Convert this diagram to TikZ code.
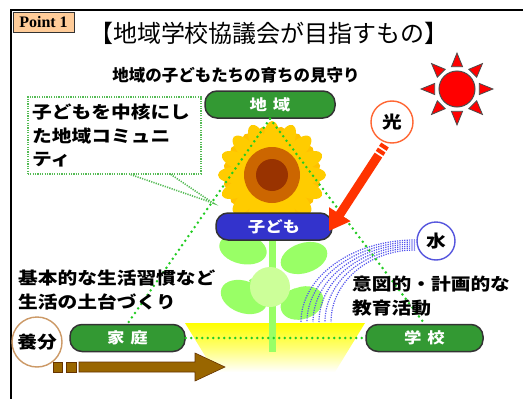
\documentclass[tikz,border=0pt]{standalone}
\usepackage{fontspec}
\setmainfont{Noto Sans CJK JP}
\newfontfamily\jpwide[FakeStretch=1.16]{Noto Sans CJK JP}
\newfontfamily\latinserif{Liberation Serif}
\usetikzlibrary{arrows.meta,calc}

\definecolor{pillgreen}{HTML}{339933}
\definecolor{pillblue}{HTML}{3333CC}
\definecolor{petal}{HTML}{FFCC00}
\definecolor{diskout}{HTML}{CC6600}
\definecolor{diskin}{HTML}{993300}
\definecolor{leaf}{HTML}{99FF66}
\definecolor{leafpale}{HTML}{CCFF99}
\definecolor{dotgreen}{HTML}{22CC22}
\definecolor{boxgreen}{HTML}{55BB55}
\definecolor{water}{HTML}{5555EE}
\definecolor{lightring}{HTML}{FF6633}
\definecolor{waterring}{HTML}{5555DD}
\definecolor{soilring}{HTML}{CC9966}
\definecolor{arrowred}{HTML}{FF3300}
\definecolor{arrowbrown}{HTML}{996600}
\definecolor{arrowbrowndark}{HTML}{663300}
\definecolor{pointbox}{HTML}{FFCC99}

\begin{document}
\begin{tikzpicture}[x=1pt,y=-1pt,
  pill/.style={rounded corners=12pt, draw=black!80, line width=1.5pt,
    minimum height=27pt, inner sep=0pt, text=white,
    font=\jpwide\bfseries\fontsize{15}{15}\selectfont},
  greenpill/.style={pill, fill=pillgreen},
  bluepill/.style={pill, fill=pillblue},
  ring/.style={circle, fill=white, line width=1.4pt, inner sep=0pt,
    font=\jpwide\bfseries\fontsize{17}{17}\selectfont},
  tri/.style={draw=dotgreen, line width=2.8pt, line cap=round,
    dash pattern=on 0pt off 5.5pt},
  commline/.style={draw=boxgreen, line width=1.6pt, dash pattern=on 1.2pt off 1.2pt},
  waterline/.style={draw=water, line width=1.2pt, dash pattern=on 1.2pt off 1.2pt},
  bodytext/.style={anchor=north west, align=left, inner sep=0pt,
    font=\jpwide\bfseries\fontsize{17}{23.5}\selectfont},
  redshaft/.style={draw=arrowred, line width=9pt}
]
\useasboundingbox (0,0) rectangle (523,399);
\clip (0,0) rectangle (523,399);
\fill[white] (0,0) rectangle (523,399);

% outer frame
\draw[line width=2pt] (11,420) -- (11,10) -- (540,10);

% soil under the plant
\shade[top color=yellow, bottom color=white, middle color=yellow!55]
  (185,323) -- (365,323) -- (335,372) -- (215,372) -- cycle;

% stem and leaves
\draw[leaf, line width=7pt] (272,175) -- (272,352);
\draw[leaf, line width=4pt] (272,300) -- (296,290);
\draw[leaf, line width=4pt] (272,268) -- (250,282);
\fill[leaf, rotate around={-12:(243,249)}] (243,249) ellipse [x radius=24, y radius=15];
\fill[leaf, rotate around={18:(304,258)}] (304,258) ellipse [x radius=24, y radius=15];
\fill[leaf, rotate around={-20:(244,297)}] (244,297) ellipse [x radius=24, y radius=16];
\fill[leaf, rotate around={20:(302,303)}] (302,303) ellipse [x radius=22, y radius=16];
\fill[leafpale] (270,287) ellipse [x radius=20, y radius=20];

% sunflower head
\begin{scope}[shift={(272,175)}]
  \foreach \a in {11.25,33.75,...,360} \fill[petal!85!orange, rotate=\a] (33,0) ellipse [x radius=16, y radius=8];
  \foreach \a in {0,22.5,...,337.5} \fill[petal, rotate=\a] (37,0) ellipse [x radius=17, y radius=8];
  \fill[diskout] (0,0) circle (28);
  \fill[diskin] (0,0) circle (16);
\end{scope}

% watering arcs
\foreach \r/\s in {84/72, 90/74, 96/76, 102/78, 108/80, 114/82}
  \draw[waterline] (415,322-\s) arc[start angle=270, end angle=180, x radius=\r, y radius=\s];

% nodes of the triangle
\node[greenpill, minimum width=130pt] (chiiki) at (270,104.5) {地\hspace{6pt}域};
\node[bluepill, minimum width=116pt] (kodomo) at (274,226.5) {子ども};
\node[greenpill, minimum width=115pt] (katei) at (127.5,338) {家\hspace{6pt}庭};
\node[greenpill, minimum width=117pt] (gakko) at (424.5,338) {学\hspace{6pt}校};

% dotted triangle linking the three partners
\draw[tri] (chiiki.south) -- (katei.north);
\draw[tri] (chiiki.south) -- (gakko.north);
\draw[tri] (katei.east) -- (gakko.west);

% callout box
\node[draw=boxgreen, line width=1.6pt, dash pattern=on 1.2pt off 1.2pt,
  anchor=north west, minimum width=173pt, minimum height=77pt, inner sep=0pt] (comm) at (27,96) {};
\node[bodytext] (commtext) at (32,104) {子どもを中核にし\\た地域コミュニ\\ティ};
\coordinate (cp) at (213,203);
\draw[commline] ($(comm.south west)!0.594!(comm.south east)$) -- (cp) -- ($(comm.south west)!0.825!(comm.south east)$);

% side texts
\node[bodytext] (kihon) at (18,270) {基本的な生活習慣など\\生活の土台づくり};
\node[bodytext] (ito) at (352,276) {意図的・計画的な\\教育活動};

% light, water, nourishment
\node[ring, draw=lightring, minimum size=42pt] (hikari) at (392,122) {光};
\node[ring, draw=waterring, minimum size=38pt] (mizu) at (436,241) {水};
\node[ring, draw=soilring, minimum size=50pt, fill=none] (youbun) at (37,342) {養分};

% light arrow
\coordinate (rs) at (385,145);
\coordinate (rt) at (329,231);
\draw[redshaft] (rs) -- ($(rs)!4pt!(rt)$);
\draw[redshaft] ($(rs)!6pt!(rt)$) -- ($(rs)!10pt!(rt)$);
\draw[redshaft, -{Triangle[length=20pt,width=24pt]}] ($(rs)!12pt!(rt)$) -- (rt);

% nourishment arrow
\filldraw[fill=arrowbrown, draw=arrowbrowndark, line width=0.6pt] (53,362) rectangle (62,372);
\filldraw[fill=arrowbrown, draw=arrowbrowndark, line width=0.6pt] (66,362) rectangle (76,372);
\filldraw[fill=arrowbrown, draw=arrowbrowndark, line width=0.6pt]
  (79,362) -- (195,362) -- (195,353) -- (225,367) -- (195,381) -- (195,372) -- (79,372) -- cycle;

% sun
\begin{scope}[shift={(457,89)}]
  \foreach \a in {0,45,...,315}
    \filldraw[fill=red, draw=black!70, line width=0.8pt] (\a:36) -- (\a+14:23) -- (\a-14:23) -- cycle;
  \filldraw[fill=red, draw=black!70, line width=1pt] (0,0) circle (18);
\end{scope}

% headings
\node[draw=black!80, line width=1pt, fill=pointbox, minimum width=61pt, minimum height=20pt,
  inner sep=0pt, font=\latinserif\bfseries\fontsize{16}{16}\selectfont] (point) at (43.5,22) {Point 1};
\node[font=\fontsize{24}{24}\selectfont, inner sep=0pt] (title) at (269,33) {【地域学校協議会が目指すもの】};
\node[font=\bfseries\fontsize{16.5}{16.5}\selectfont, inner sep=0pt] (subtitle) at (236,75) {地域の子どもたちの育ちの見守り};
\end{tikzpicture}
\end{document}
